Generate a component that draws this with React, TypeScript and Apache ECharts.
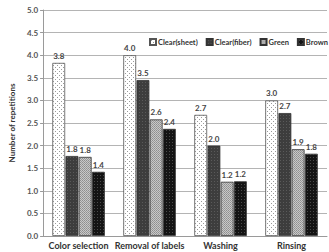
import React, { useEffect, useRef } from "react";
import * as echarts from "echarts";

const categories = ["Color selection", "Removal of labels", "Washing", "Rinsing"];
const seriesNames = ["Clear(sheet)", "Clear(fiber)", "Green", "Brown"];
const clearSheet = [3.83, 4.0, 2.68, 3.0];
const clearFiber = [1.77, 3.45, 2.0, 2.72];
const green = [1.75, 2.58, 1.2, 1.92];
const brown = [1.42, 2.37, 1.21, 1.82];
const yTicks = { min: 0, max: 5, interval: 0.5 };

const FONT = "Lato, 'Open Sans', sans-serif";

// Small tiled textures that mimic the print-style fills of each series
function makePattern(size: number, bg: string, dots: [number, number, string][]) {
  const c = document.createElement("canvas");
  c.width = size;
  c.height = size;
  const ctx = c.getContext("2d")!;
  ctx.fillStyle = bg;
  ctx.fillRect(0, 0, size, size);
  for (const [x, y, col] of dots) {
    ctx.fillStyle = col;
    ctx.fillRect(x, y, 1, 1);
  }
  return { image: c.toDataURL(), repeat: "repeat", imageWidth: size, imageHeight: size } as any;
}

export default function App() {
  const ref = useRef<HTMLDivElement>(null);

  useEffect(() => {
    if (!ref.current) return;
    const chart = echarts.init(ref.current, undefined, { renderer: "svg" });

    const fills = [
      makePattern(4, "#ffffff", [[1, 1, "#9a9a9a"], [3, 3, "#9a9a9a"]]),
      makePattern(3, "#3d3d3d", [[1, 1, "#5a5a5a"]]),
      makePattern(2, "#c8c8c8", [[0, 0, "#8e8e8e"], [1, 1, "#9a9a9a"]]),
      makePattern(3, "#141414", [[1, 1, "#4a4a4a"]]),
    ];
    const values = [clearSheet, clearFiber, green, brown];

    chart.setOption({
      animation: false,
      textStyle: { fontFamily: FONT },
      grid: { left: 30, right: 2, top: 10, bottom: 16, containLabel: false },
      legend: {
        left: 147,
        top: 37,
        width: 220,
        itemWidth: 6,
        itemHeight: 6,
        itemGap: 8,
        icon: "rect",
        backgroundColor: "#ffffff",
        padding: [1, 2],
        textStyle: { fontFamily: FONT, fontWeight: "bold", fontSize: 7.5, color: "#333", padding: [0, 0, 0, -3] },
        data: seriesNames,
      },
      xAxis: {
        type: "category",
        data: categories,
        axisLine: { lineStyle: { color: "#9a9a9a" } },
        axisTick: { show: false },
        axisLabel: { fontFamily: FONT, fontWeight: "bold", fontSize: 9, color: "#333", margin: 5, interval: 0 },
      },
      yAxis: {
        type: "value",
        min: yTicks.min,
        max: yTicks.max,
        interval: yTicks.interval,
        name: "Number of repetitions",
        nameLocation: "middle",
        nameGap: 21,
        nameTextStyle: { fontFamily: FONT, fontWeight: "bold", fontSize: 8, color: "#333" },
        axisLine: { show: true, lineStyle: { color: "#9a9a9a" } },
        axisTick: { show: true, length: 3, lineStyle: { color: "#9a9a9a" } },
        axisLabel: {
          fontFamily: FONT,
          fontWeight: "bold",
          fontSize: 8,
          color: "#555",
          margin: 5,
          formatter: (v: number) => v.toFixed(1),
        },
        splitLine: { lineStyle: { color: "#b4b4b4" } },
      },
      series: seriesNames.map((name, i) => ({
        name,
        type: "bar",
        data: values[i],
        barGap: "3%",
        barCategoryGap: "26%",
        itemStyle: { color: fills[i], borderColor: i === 0 ? "#555" : "#333", borderWidth: 0.8 },
        label: {
          show: true,
          position: "top",
          distance: 3,
          fontFamily: FONT,
          fontWeight: "bold",
          fontSize: 8,
          color: "#444",
          formatter: (p: any) => Number(p.value).toFixed(1),
        },
      })),
    });

    return () => chart.dispose();
  }, []);

  return <div ref={ref} style={{ width: 329, height: 252, position: "absolute", left: 0, top: 0, background: "#fff" }} />;
}
